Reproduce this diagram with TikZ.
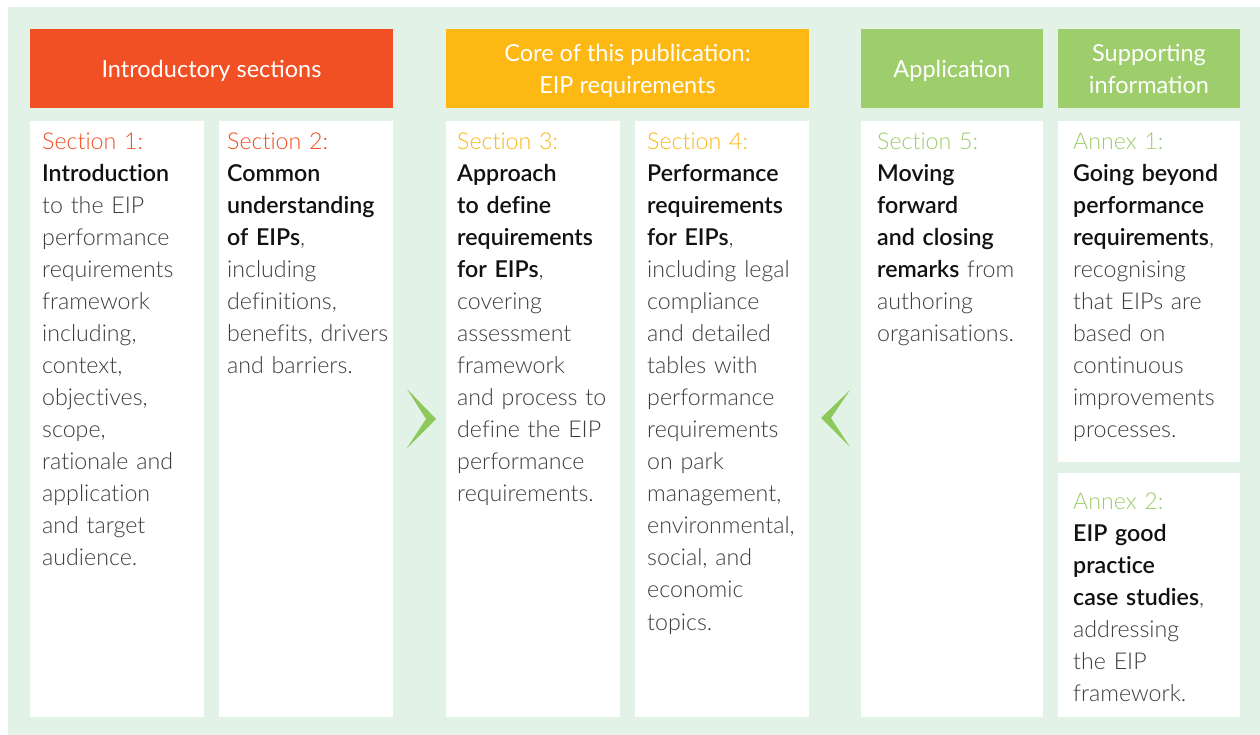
\documentclass[tikz,border=0pt]{standalone}
\usepackage{fontspec}
\setmainfont{Lato}[UprightFont={* Light},BoldFont={* Semibold},Ligatures=NoCommon]
\newfontfamily\headfont{Lato}
\definecolor{bgc}{HTML}{E3F2E6}
\definecolor{redc}{HTML}{F05023}
\definecolor{orc}{HTML}{FDB813}
\definecolor{grc}{HTML}{9DCE6B}
\definecolor{chev}{HTML}{8DC85A}
\definecolor{bodyc}{HTML}{3C3C3C}
\definecolor{boldc}{HTML}{111111}
\newcommand{\bt}[1]{{\bfseries\color{boldc}#1}}
\tikzset{
  panel/.style={fill=white,draw=none,anchor=north west,inner sep=0pt},
  head/.style={anchor=north west,inner sep=0pt,draw=none},
  headtxt/.style={text=white,align=center,inner sep=0pt,font={\headfont\fontsize{23.5}{32}\selectfont}},
  body/.style={anchor=base west,inner sep=0pt,text width=175pt,align=left,text=bodyc,font={\fontsize{23.2}{32}\selectfont}},
  chevron/.style={fill=chev,draw=none}
}
\begin{document}
\begin{tikzpicture}[x=1pt,y=-1pt]
\useasboundingbox (0,0) rectangle (1260,735);
\fill[bgc] (8,7) rectangle (1260,735);
% headers
\node[head,fill=redc,minimum width=363pt,minimum height=79pt] (h1) at (30,29) {};
\node[head,fill=orc,minimum width=363pt,minimum height=79pt] (h2) at (446,29) {};
\node[head,fill=grc,minimum width=182pt,minimum height=79pt] (h3) at (861,29) {};
\node[head,fill=grc,minimum width=182pt,minimum height=79pt] (h4) at (1058,29) {};
\node[headtxt,anchor=base] (t1) at (211.5,78) {Introductory sections};
\node[headtxt,anchor=base] (t2) at (627.5,62) {Core of this publication:};
\node[headtxt,anchor=base] (t2b) at (627.5,94) {EIP requirements};
\node[headtxt,anchor=base] (t3) at (952,78) {Application};
\node[headtxt,anchor=base] (t4) at (1149,62) {Supporting};
\node[headtxt,anchor=base] (t4b) at (1149,94) {information};
% panels
\node[panel,minimum width=174pt,minimum height=596pt] (p1) at (30,121) {};
\node[panel,minimum width=174pt,minimum height=596pt] (p2) at (219,121) {};
\node[panel,minimum width=174pt,minimum height=596pt] (p3) at (446,121) {};
\node[panel,minimum width=174pt,minimum height=596pt] (p4) at (635,121) {};
\node[panel,minimum width=182pt,minimum height=596pt] (p5) at (861,121) {};
\node[panel,minimum width=182pt,minimum height=341pt] (p6) at (1058,121) {};
\node[panel,minimum width=182pt,minimum height=244pt] (p7) at (1058,473) {};
% texts
\node[body] (s1) at (42,150) {\textcolor{redc}{Section 1:}\\ \bt{Introduction}\\ to the EIP\\ performance\\ requirements\\ framework\\ including,\\ context,\\ objectives,\\ scope,\\ rationale and\\ application\\ and target\\ audience.};
\node[body] (s2) at (227,150) {\textcolor{redc}{Section 2:}\\ \bt{Common}\\ \bt{understanding}\\ \bt{of EIPs},\\ including\\ definitions,\\ benefits, drivers\\ and barriers.};
\node[body] (s3) at (457,150) {\textcolor{orc}{Section 3:}\\ \bt{Approach}\\ \bt{to define}\\ \bt{requirements}\\ \bt{for EIPs},\\ covering\\ assessment\\ framework\\ and process to\\ define the EIP\\ performance\\ requirements.};
\node[body] (s4) at (647,150) {\textcolor{orc}{Section 4:}\\ \bt{Performance}\\ \bt{requirements}\\ \bt{for EIPs},\\ including legal\\ compliance\\ and detailed\\ tables with\\ performance\\ requirements\\ on park\\ management,\\ environmental,\\ social, and\\ economic\\ topics.};
\node[body] (s5) at (877,150) {\textcolor{grc}{Section 5:}\\ \bt{Moving}\\ \bt{forward}\\ \bt{and closing}\\ \bt{remarks} from\\ authoring\\ organisations.};
\node[body] (a1) at (1073,150) {\textcolor{grc}{Annex 1:}\\ \bt{Going beyond}\\ \bt{performance}\\ \bt{requirements},\\ recognising\\ that EIPs are\\ based on\\ continuous\\ improvements\\ processes.};
\node[body] (a2) at (1073,509) {\textcolor{grc}{Annex 2:}\\ \bt{EIP good}\\ \bt{practice}\\ \bt{case studies},\\ addressing\\ the EIP\\ framework.};
% chevrons
\fill[chevron] (407,389) -- (436,419) -- (407,448) -- (426,419) -- cycle;
\fill[chevron] (850,390) -- (821,418) -- (850,447) -- (831,418) -- cycle;
\end{tikzpicture}
\end{document}
